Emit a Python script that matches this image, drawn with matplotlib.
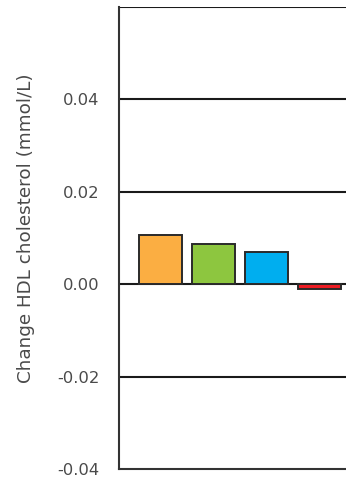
import matplotlib
matplotlib.use("Agg")
import matplotlib.pyplot as plt

groups = ["A", "B", "C", "D"]
values = [0.0107, 0.0088, 0.0069, -0.0010]
colors = ["#FBAE42", "#8DC63F", "#00AEEF", "#ED1C24"]
yticks = [-0.04, -0.02, 0.00, 0.02, 0.04]
ylabel = "Change HDL cholesterol (mmol/L)"

fig = plt.figure(figsize=(3.46, 4.78), dpi=100)
ax = fig.add_axes([119/346, 9/478, (346-119)/346, (469-7)/478])

x = list(range(len(groups)))
ax.bar(x, values, width=0.83, color=colors, edgecolor="#2a2a2a", linewidth=1.4, zorder=3)

ax.set_xlim(-0.783, 3.5)
ax.set_ylim(-0.04, 0.06)
ax.set_yticks(yticks)
ax.set_yticklabels([f"{v:.2f}" for v in yticks])
for v in [0.06, 0.04, 0.02, 0.0, -0.02]:
    ax.axhline(v, color="#1a1a1a", linewidth=1.5, zorder=1)
ax.set_xticks([])
for s in ["top", "right"]:
    ax.spines[s].set_visible(False)
ax.spines["left"].set_color("#333333")
ax.spines["left"].set_linewidth(1.5)
ax.spines["bottom"].set_color("#333333")
ax.spines["bottom"].set_linewidth(1.5)
ax.tick_params(axis="y", length=0, pad=14, labelsize=11.8, labelcolor="#4a4a4a")
ax.set_ylabel(ylabel, fontsize=13.2, color="#4a4a4a")
ax.yaxis.set_label_coords(-0.372, 0.5216)

fig.savefig("out.png", dpi=100)
